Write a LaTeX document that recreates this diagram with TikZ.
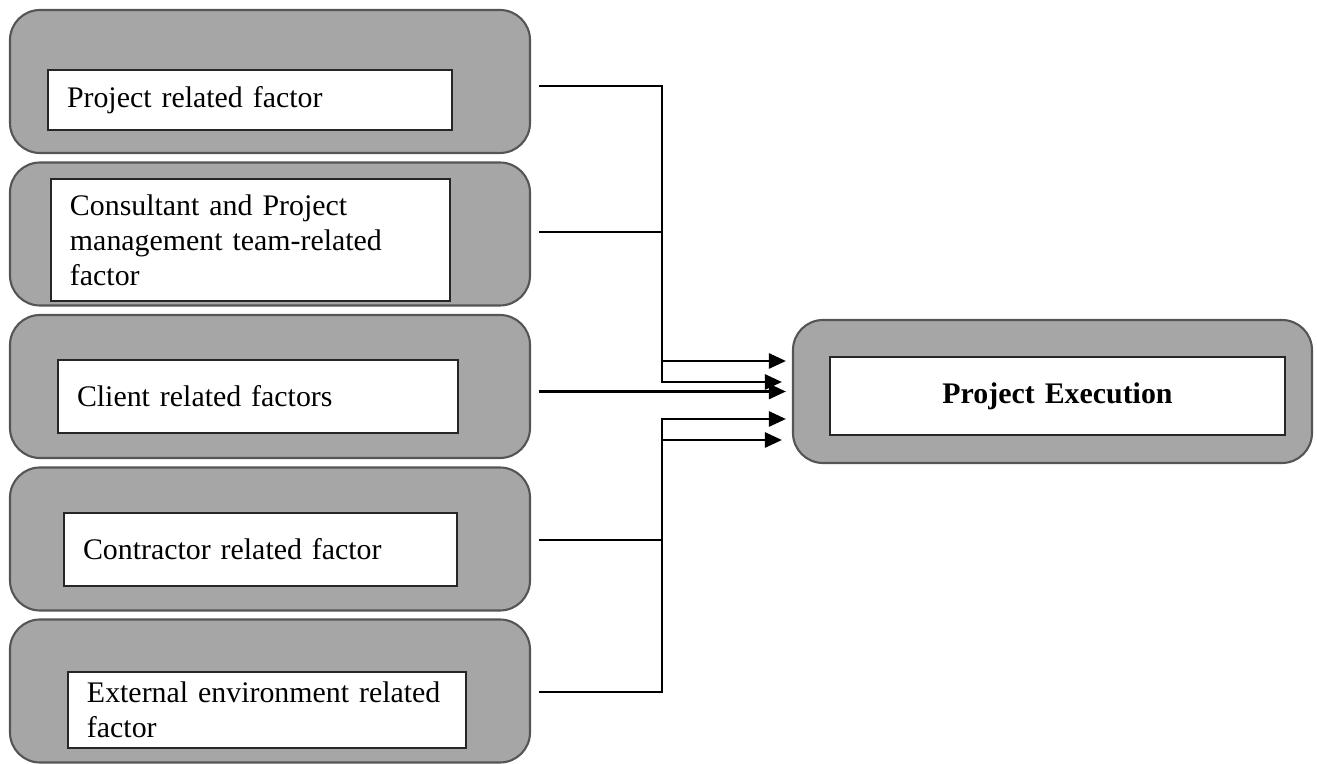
\documentclass[tikz,border=0pt]{standalone}
\usepackage{fontspec}
\setmainfont{Liberation Serif}
\usetikzlibrary{arrows.meta,positioning,calc}
\definecolor{boxgray}{RGB}{166,166,166}
\definecolor{rimgray}{RGB}{85,85,85}

\tikzset{
  outerbox/.style={draw=rimgray,fill=boxgray,line width=1.2pt,rounded corners=0.6cm,
    minimum width=10.4cm,minimum height=2.86cm},
  innerbox/.style={draw=black!85,fill=white,line width=0.8pt,align=left,inner xsep=0.38cm,
    font=\fontsize{17}{20}\selectfont},
  link/.style={line width=1.5pt,-{Triangle[length=0.34cm,width=0.3cm]}}
}

\begin{document}
\begin{tikzpicture}
\useasboundingbox (0,0) rectangle (26.34,-15.28);
% factor groups
\foreach \y/\ix/\iy/\tw/\h/\txt [count=\i] in {
  -1.63/5.0/-2.0/7.32/1.2/{Project related factor},
  -4.68/5.01/-4.8/7.22/2.44/{Consultant and Project\\management team-related\\factor},
  -7.73/5.16/-7.93/7.24/1.46/{Client related factors},
  -10.78/5.21/-10.99/7.1/1.46/{Contractor related factor},
  -13.82/5.34/-14.2/7.2/1.52/{External environment related\\factor}}{
  \node[outerbox] (f\i) at (5.4,\y) {};
  \node[innerbox,text width=\tw cm,minimum height=\h cm] (t\i) at (\ix,\iy) {\txt};
}
% target
\node[outerbox,minimum width=10.38cm] (pe) at (21.05,-7.83) {};
\node[innerbox,align=center,text width=8.34cm,minimum height=1.56cm,font=\fontsize{17}{20}\selectfont\bfseries]
  (pt) at (21.15,-7.92) {Project Execution};
% connectors
\coordinate (bus) at (13.24,0);
\coordinate (a1) at ($(pe.west)+(-0.12,0.61)$);
\coordinate (a2) at ($(pe.west)+(-0.2,0.19)$);
\coordinate (a3) at ($(pe.west)+(-0.12,0)$);
\coordinate (a4) at ($(pe.west)+(-0.12,-0.55)$);
\coordinate (a5) at ($(pe.west)+(-0.2,-0.97)$);
\draw[link] ($(f1.east)+(0.16,-0.09)$) -| (bus |- a1) -- (a1);
\draw[link] ($(f2.east)+(0.16,0.04)$) -| (bus |- a2) -- (a2);
\draw[link] ($(f3.east |- a3)+(0.16,0)$) -- (a3);
\draw[link] ($(f4.east)+(0.16,-0.02)$) -| (bus |- a4) -- (a4);
\draw[link] ($(f5.east)+(0.16,-0.02)$) -| (bus |- a5) -- (a5);
\end{tikzpicture}
\end{document}
